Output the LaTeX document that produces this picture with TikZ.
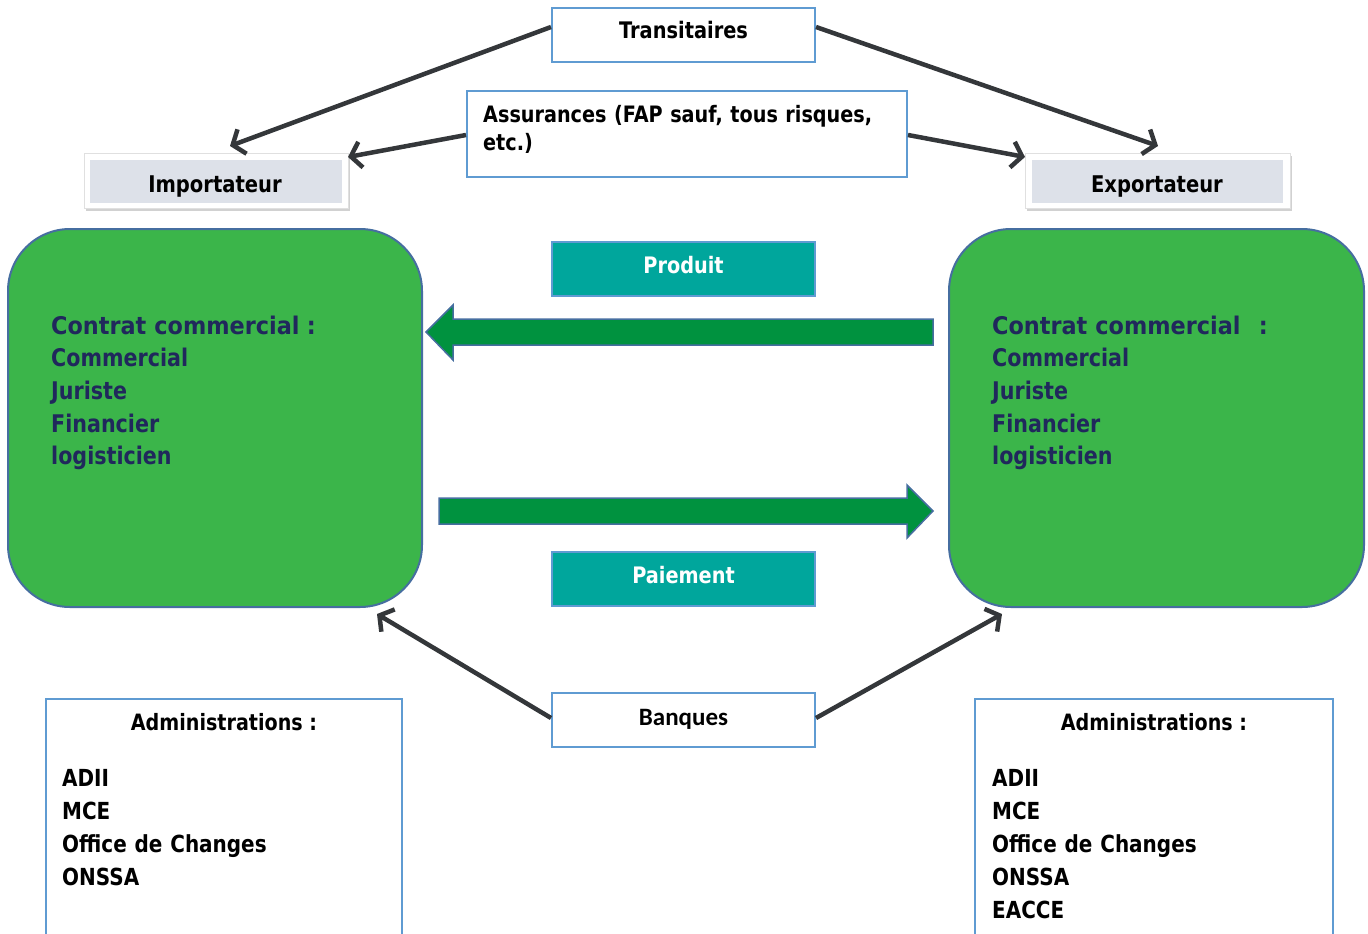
\documentclass[tikz,border=0pt]{standalone}
\usepackage{fontspec}
\setmainfont{DejaVu Sans}[FakeStretch=0.85]
\newfontfamily\widefont{DejaVu Sans}[FakeStretch=0.92]
\newfontfamily\calfont{Carlito}
\usetikzlibrary{arrows.meta,shadows}
\definecolor{boxblue}{RGB}{95,155,210}
\definecolor{tealc}{RGB}{0,166,156}
\definecolor{greenc}{RGB}{59,181,74}
\definecolor{greenborder}{RGB}{70,110,160}
\definecolor{arrowgreen}{RGB}{0,146,63}
\definecolor{navyc}{RGB}{32,40,92}
\definecolor{connc}{RGB}{52,55,58}
\definecolor{impgray}{RGB}{221,225,233}
\tikzset{
  bluebox/.style={draw=boxblue, line width=2pt, fill=white, inner sep=0pt},
  tealbox/.style={draw=boxblue, line width=2pt, fill=tealc, inner sep=0pt},
  greenbox/.style={draw=greenborder, line width=2pt, fill=greenc, rounded corners=62pt, inner sep=0pt},
  shadowbox/.style={draw=black!12, line width=1pt, fill=white, inner sep=0pt,
    drop shadow={shadow xshift=2pt, shadow yshift=-3pt, opacity=.4, fill=black!45}},
  graybox/.style={fill=impgray, inner sep=0pt},
  txt/.style={inner sep=0pt, anchor=base, font=\bfseries\fontsize{22.7pt}{27pt}\selectfont},
  blocktxt/.style={inner sep=0pt, anchor=base west, text width=330pt, align=left},
  conn/.style={draw=connc, line width=4.5pt, -{Straight Barb[length=10pt,width=26pt]}},
  bigarrow/.style={fill=arrowgreen, draw=greenborder, line width=1.5pt},
}
\begin{document}
\begin{tikzpicture}[x=1pt,y=-1pt]
\useasboundingbox (0,0) rectangle (1368,934);
% top boxes
\node[bluebox, minimum width=263pt, minimum height=54pt] (trans) at (683.5,35) {};
\node[txt, font=\bfseries\fontsize{22.8pt}{27pt}\selectfont] (transT) at (683.5,39) {Transitaires};
\node[bluebox, minimum width=440pt, minimum height=86pt] (assur) at (687,134) {};
\node[blocktxt, text width=420pt, font=\bfseries\fontsize{22.6pt}{28pt}\selectfont] (assurT) at (483,122) {Assurances (FAP sauf, tous risques,\\etc.)};
% importateur / exportateur
\node[shadowbox, minimum width=264pt, minimum height=55pt] (impO) at (216,180.5) {};
\node[graybox, minimum width=252pt, minimum height=43pt] (imp) at (216,181.5) {};
\node[txt, font=\bfseries\fontsize{23pt}{27pt}\selectfont] (impT) at (215,192) {Importateur};
\node[shadowbox, minimum width=265pt, minimum height=55pt] (expO) at (1157.5,180.5) {};
\node[graybox, minimum width=251pt, minimum height=43pt] (exp) at (1157.5,181.5) {};
\node[txt, font=\bfseries\fontsize{23pt}{27pt}\selectfont] (expT) at (1157,192) {Exportateur};
% green boxes
\node[greenbox, minimum width=414pt, minimum height=378pt] (gL) at (215,418) {};
\node[greenbox, minimum width=415pt, minimum height=378pt] (gR) at (1156.5,418) {};
\node[blocktxt, text=navyc, font=\bfseries\fontsize{24.3pt}{32.7pt}\selectfont] (gLT) at (51,334)
  {{\widefont\bfseries Contrat commercial\hspace{0.3em}:}\\Commercial\\Juriste\\Financier\\logisticien};
\node[blocktxt, text=navyc, font=\bfseries\fontsize{24.3pt}{32.7pt}\selectfont] (gRT) at (992,334)
  {{\widefont\bfseries Contrat commercial\hspace{0.75em}:}\\Commercial\\Juriste\\Financier\\logisticien};
% produit / paiement
\node[tealbox, minimum width=263pt, minimum height=54pt] (prod) at (683.5,269) {};
\node[txt, text=white] (prodT) at (683.5,273) {Produit};
\node[tealbox, minimum width=263pt, minimum height=54pt] (paie) at (683.5,579) {};
\node[txt, text=white] (paieT) at (683.5,583) {Paiement};
% big arrows
\path[bigarrow] (933,319) -- (453,319) -- (453,305) -- (426,332) -- (453,360) -- (453,345) -- (933,345) -- cycle;
\path[bigarrow] (439,498) -- (907,498) -- (907,485) -- (933,511) -- (907,538) -- (907,524) -- (439,524) -- cycle;
% banques
\node[bluebox, minimum width=263pt, minimum height=54pt] (banq) at (683.5,720) {};
\node[txt, font=\calfont\bfseries\fontsize{25pt}{30pt}\selectfont] (banqT) at (683.5,725) {Banques};
% administrations
\node[bluebox, minimum width=356pt, minimum height=262pt] (admL) at (224,830) {};
\node[txt, font=\bfseries\fontsize{22.5pt}{27pt}\selectfont] (admLT) at (224,730) {Administrations :};
\node[blocktxt, font=\bfseries\fontsize{23.5pt}{33pt}\selectfont] (admLI) at (62,786)
  {ADII\\MCE\\Office de Changes\\ONSSA};
\node[bluebox, minimum width=358pt, minimum height=262pt] (admR) at (1154,830) {};
\node[txt, font=\bfseries\fontsize{22.5pt}{27pt}\selectfont] (admRT) at (1154,730) {Administrations :};
\node[blocktxt, font=\bfseries\fontsize{23.5pt}{33pt}\selectfont] (admRI) at (992,786)
  {ADII\\MCE\\Office de Changes\\ONSSA\\EACCE};
% connector targets
\coordinate (tImpA) at (230,146);
\coordinate (tExpA) at (1158,146);
\coordinate (tImpB) at (348,157);
\coordinate (tExpB) at (1025,157);
\coordinate (tGL) at (377,614);
\coordinate (tGR) at (1002,614);
% connectors
\draw[conn] ([yshift=8pt]trans.west) -- (tImpA);
\draw[conn] ([yshift=8pt]trans.east) -- (tExpA);
\draw[conn] ([yshift=-1pt]assur.west) -- (tImpB);
\draw[conn] ([yshift=-1pt]assur.east) -- (tExpB);
\draw[conn] ([yshift=2pt]banq.west) -- (tGL);
\draw[conn] ([yshift=2pt]banq.east) -- (tGR);
\end{tikzpicture}
\end{document}
